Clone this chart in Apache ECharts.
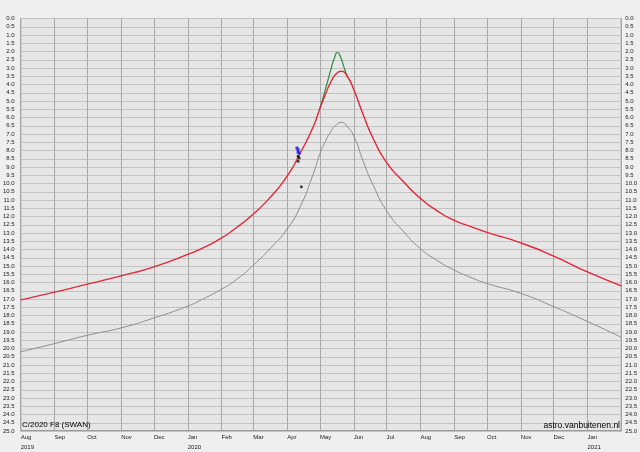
<!DOCTYPE html>
<html>
<head>
<meta charset="utf-8">
<script src="https://cdn.jsdelivr.net/npm/echarts@6/dist/echarts.min.js"></script>
<style>
html,body{margin:0;padding:0;background:#efefef;}
#chart{width:640px;height:452px;}
</style>
</head>
<body>
<div id="chart"></div>
<script>
// Dates shared by the two model curves
const modelDates = ['2019-08-01','2019-09-01','2019-10-01','2019-11-01','2019-12-01','2020-01-01','2020-01-15','2020-02-01','2020-02-15','2020-03-01','2020-03-17','2020-04-01','2020-04-13','2020-04-25','2020-05-01','2020-05-06','2020-05-11','2020-05-16','2020-05-21','2020-05-26','2020-06-01','2020-06-10','2020-06-19','2020-07-01','2020-07-17','2020-08-01','2020-08-16','2020-09-01','2020-09-15','2020-10-01','2020-11-01','2020-12-01','2021-01-01','2021-02-01'];
// Total magnitude (red)
const totalMag = [17.05,16.58,16.1,15.6,15.05,14.3,13.9,13.3,12.65,11.85,10.8,9.55,8.15,6.55,5.45,4.6,3.85,3.35,3.2,3.5,4.3,5.9,7.3,8.72,9.93,10.9,11.64,12.24,12.58,12.96,13.6,14.4,15.36,16.2];
// Nuclear magnitude (grey)
const nuclearMag = [20.2,19.7,19.2,18.75,18.15,17.43,17.0,16.4,15.8,14.95,13.9,12.75,11.4,9.4,8.2,7.45,6.85,6.45,6.3,6.55,7.12,8.72,10.13,11.64,12.94,13.95,14.65,15.25,15.66,16.06,16.66,17.46,18.36,19.32];
// Alternative model near perihelion (green)
const altDates = ['2020-05-01','2020-05-06','2020-05-11','2020-05-14','2020-05-17','2020-05-20','2020-05-23','2020-05-26'];
const altMag = [5.45,4.3,3.1,2.45,2.06,2.35,2.95,3.5];
// Observations
const blueDates = ['2020-04-10','2020-04-11','2020-04-11','2020-04-12'];
const blueMag = [7.85,7.95,8.1,8.15];
const blackDates = ['2020-04-11','2020-04-12','2020-04-11','2020-04-14'];
const blackMag = [8.35,8.45,8.65,10.2];
const monthNames = ['Jan','Feb','Mar','Apr','May','Jun','Jul','Aug','Sep','Oct','Nov','Dec'];
const titleText = 'C/2020 F8 (SWAN)';
const creditText = 'astro.vanbuitenen.nl';
const xStart = '2019-08-01', xEnd = '2021-02-01';

const zip = (a, b) => a.map((d, i) => [d, b[i]]);
const endTime = echarts.time.parse(xEnd).getTime();

const chart = echarts.init(document.getElementById('chart'), null, {renderer:'canvas'});
const yAxisCommon = {
  type:'value', min:0, max:25, interval:0.5, inverse:true,
  axisLine:{show:false}, axisTick:{show:false},
  axisLabel:{fontSize:6, color:'#222', fontFamily:'Liberation Sans', formatter:v => v.toFixed(1)}
};
const lineCommon = {type:'line', smooth:0.6, showSymbol:false};
chart.setOption({
  animation:false,
  backgroundColor:'#efefef',
  grid:{left:19, right:18, top:18.5, bottom:18.5, show:true, backgroundColor:'#e6e6e6', borderColor:'#555', borderWidth:1, containLabel:false},
  xAxis:{
    type:'time', min:xStart, max:xEnd,
    minInterval:28*86400000, maxInterval:31*86400000,
    axisLine:{show:false}, axisTick:{show:false},
    splitLine:{show:true, lineStyle:{color:'#a8a8a8', width:1}},
    axisLabel:{
      showMinLabel:true, showMaxLabel:false, hideOverlap:false,
      fontSize:6, color:'#222', fontFamily:'Liberation Sans', align:'left', margin:2, lineHeight:9.5,
      formatter:function(value){
        if (value >= endTime - 86400000) return '';
        const d = new Date(value);
        const m = d.getMonth(), y = d.getFullYear();
        if (m === 0 || (y === 2019 && m === 7)) return monthNames[m] + '\n' + y;
        return monthNames[m];
      }
    }
  },
  yAxis:[
    Object.assign({}, yAxisCommon, {position:'left', axisLabel:Object.assign({}, yAxisCommon.axisLabel, {margin:6}), splitLine:{show:true, lineStyle:{color:'#c2c2c2', width:1}}}),
    Object.assign({}, yAxisCommon, {position:'right', axisLabel:Object.assign({}, yAxisCommon.axisLabel, {margin:4}), splitLine:{show:false}})
  ],
  graphic:[
    {type:'text', left:22, top:421, z:100, style:{text:titleText, font:'8px "Liberation Sans"', fill:'#000'}},
    {type:'text', right:20, top:421, z:100, style:{text:creditText, font:'8.5px "Liberation Sans"', fill:'#000'}}
  ],
  series:[
    Object.assign({}, lineCommon, {name:'nuclear', data:zip(modelDates, nuclearMag), lineStyle:{color:'#8c8c8c', width:1}, z:2}),
    Object.assign({}, lineCommon, {name:'alt', data:zip(altDates, altMag), lineStyle:{color:'#2f8a3a', width:1.2}, z:3}),
    Object.assign({}, lineCommon, {name:'total', data:zip(modelDates, totalMag), lineStyle:{color:'#e0283a', width:1.4}, z:4}),
    {type:'scatter', name:'blue', data:zip(blueDates, blueMag), symbol:'rect', symbolSize:3, itemStyle:{color:'#1c1cf0'}, z:5},
    {type:'scatter', name:'black', data:zip(blackDates, blackMag), symbol:'circle', symbolSize:3, itemStyle:{color:'#111'}, z:6}
  ]
});
</script>
</body>
</html>
